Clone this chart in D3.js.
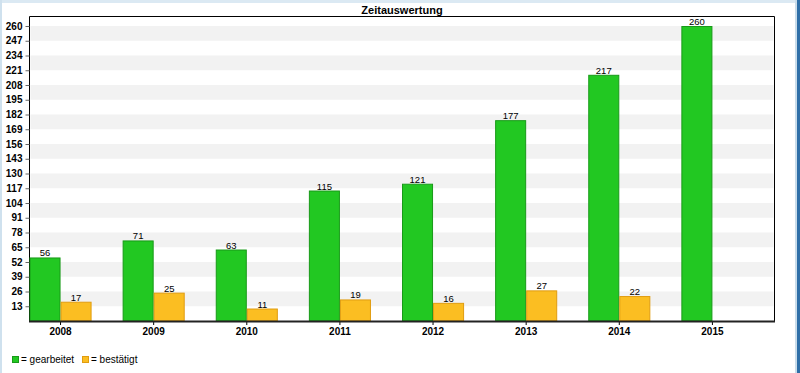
<!DOCTYPE html>
<html>
<head>
<meta charset="utf-8">
<script src="https://cdnjs.cloudflare.com/ajax/libs/d3/7.8.5/d3.min.js"></script>
<style>
  html, body { margin: 0; padding: 0; background: #fff; }
  svg { display: block; font-family: "Liberation Sans", Arial, sans-serif; }
</style>
</head>
<body>
<div id="chart"></div>
<script>
const years = ["2008", "2009", "2010", "2011", "2012", "2013", "2014", "2015"];
const gearbeitet = [56, 71, 63, 115, 121, 177, 217, 260];
const bestaetigt = [17, 25, 11, 19, 16, 27, 22, 0];
const yTicks = [13, 26, 39, 52, 65, 78, 91, 104, 117, 130, 143, 156, 169, 182, 195, 208, 221, 234, 247, 260];
const seriesNames = ["= gearbeitet", "= bestätigt"];
const seriesColors = ["#22c822", "#fbbe22"];
const seriesStroke = ["#189a18", "#e09c10"];

const width = 800, height = 373;
const plotLeft = 29.5, plotRight = 774.5, plotTop = 16.5, plotBottom = 321;

const svg = d3.select("#chart").append("svg")
  .attr("width", width)
  .attr("height", height);

// outer frame
svg.append("rect").attr("x", 0).attr("y", 0).attr("width", width).attr("height", height).attr("fill", "#fff");
svg.append("rect").attr("x", 0).attr("y", 0).attr("width", width).attr("height", 3).attr("fill", "#dbe9f3");
svg.append("rect").attr("x", 0).attr("y", 0).attr("width", 2).attr("height", height).attr("fill", "#cfe1ee");
svg.append("rect").attr("x", 795).attr("y", 0).attr("width", 2).attr("height", height).attr("fill", "#c9dcea");
svg.append("rect").attr("x", 797).attr("y", 0).attr("width", 3).attr("height", height).attr("fill", "#2f6fa8");

const x = d3.scaleBand().domain(years).range([plotLeft, plotRight]).padding(0);
const bw = x.bandwidth() / 3;
const y = d3.scaleLinear().domain([0, 260]).range([plotBottom, 26]);

// alternating bands
const bands = yTicks.filter((d, i) => i % 2 === 1);
svg.append("g").selectAll("rect").data(bands).enter().append("rect")
  .attr("x", plotLeft + 1)
  .attr("width", plotRight - plotLeft - 2)
  .attr("y", (d) => y(d))
  .attr("height", (d) => y(d - 13) - y(d))
  .attr("fill", "#f2f2f2");

// plot frame
svg.append("path")
  .attr("d", `M${plotLeft},${plotBottom} L${plotLeft},${plotTop} L${plotRight},${plotTop} L${plotRight},${plotBottom}`)
  .attr("fill", "none")
  .attr("stroke", "#000")
  .attr("stroke-width", 1);

// title
svg.append("text")
  .attr("x", (plotLeft + plotRight) / 2)
  .attr("y", 14)
  .attr("text-anchor", "middle")
  .style("font-size", "11px")
  .style("font-weight", "bold")
  .text("Zeitauswertung");

// y axis
const yAxis = svg.append("g").attr("transform", `translate(${plotLeft},0)`)
  .call(d3.axisLeft(y).tickValues(yTicks).tickSize(4).tickPadding(3));
yAxis.select(".domain").remove();
yAxis.selectAll(".tick line").attr("stroke", "#666");
yAxis.selectAll("text")
  .style("font-size", "10px")
  .style("font-weight", "bold")
  .style("font-family", "'Liberation Sans', Arial, sans-serif")
  .attr("fill", "#000");

// bars
const series = [gearbeitet, bestaetigt];
series.forEach((vals, s) => {
  const g = svg.append("g");
  const data = years.map((yr, i) => ({ yr, v: vals[i] })).filter((d) => d.v > 0);
  g.selectAll("rect").data(data).enter().append("rect")
    .attr("x", (d) => x(d.yr) + s * bw + 0.5)
    .attr("y", (d) => y(d.v) + 0.5)
    .attr("width", bw - 1)
    .attr("height", (d) => y(0) - y(d.v) - 0.5)
    .attr("fill", seriesColors[s])
    .attr("stroke", seriesStroke[s])
    .attr("stroke-width", 1);
  g.selectAll("text").data(data).enter().append("text")
    .attr("x", (d) => x(d.yr) + s * bw + bw / 2)
    .attr("y", (d) => y(d.v) - 1)
    .attr("text-anchor", "middle")
    .style("font-size", "9.5px")
    .attr("fill", "#000")
    .text((d) => d.v);
});

// x axis
const xAxis = svg.append("g").attr("transform", `translate(0,${plotBottom})`)
  .call(d3.axisBottom(x).tickSize(4).tickPadding(3));
xAxis.select(".domain").remove();
xAxis.selectAll(".tick").attr("transform", (d) => `translate(${x(d) + bw},0)`);
xAxis.selectAll(".tick line").attr("stroke", "#000");
xAxis.selectAll("text")
  .style("font-size", "10px")
  .style("font-weight", "bold")
  .style("font-family", "'Liberation Sans', Arial, sans-serif")
  .attr("fill", "#000");
svg.append("line")
  .attr("x1", plotLeft - 0.5).attr("x2", plotRight + 0.5)
  .attr("y1", plotBottom + 0.5).attr("y2", plotBottom + 0.5)
  .attr("stroke", "#222").attr("stroke-width", 2);

// legend
const legend = svg.append("g");
const legX = [12, 82];
seriesNames.forEach((name, i) => {
  legend.append("rect")
    .attr("x", legX[i] + 0.5).attr("y", 356.5)
    .attr("width", 6).attr("height", 6)
    .attr("fill", seriesColors[i]).attr("stroke", seriesStroke[i]);
  legend.append("text")
    .attr("x", legX[i] + 9).attr("y", 363)
    .style("font-size", "10px")
    .attr("fill", "#000")
    .text(name);
});
</script>
</body>
</html>
